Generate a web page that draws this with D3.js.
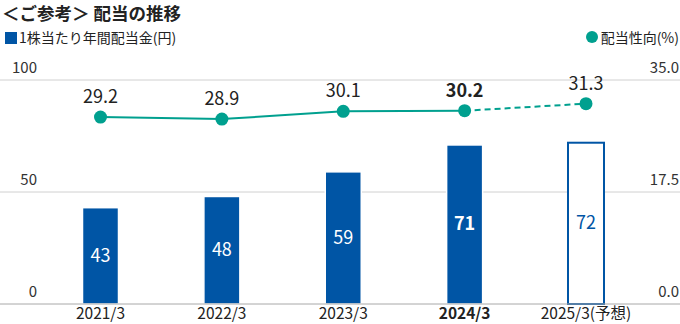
<html lang="ja">
<head>
<meta charset="UTF-8">
<title>配当の推移</title>
<script src="https://d3js.org/d3.v7.min.js"></script>
<style>
    body { margin: 0; background: #fff; overflow: hidden; }
    svg text { font-family: "Noto Sans CJK JP", "Noto Sans", sans-serif; fill: #222; }
</style>
</head>
<body>
<svg id="chart" width="680" height="324"></svg>
<script>
    // data
    const categories = ["2021/3", "2022/3", "2023/3", "2024/3", "2025/3(予想)"];
    const dividends = [43, 48, 59, 71, 72];
    const payoutRatio = [29.2, 28.9, 30.1, 30.2, 31.3];
    const isForecast = [false, false, false, false, true];
    const isCurrent = [false, false, false, true, false];
    const leftTicks = [0, 50, 100];
    const rightTicks = [0, 17.5, 35];

    const blue = "#0055a5";
    const teal = "#00a08f";

    const svg = d3.select("svg#chart");
    const width = +svg.attr("width");

    const x = d3.scalePoint().domain(categories).range([100.5, 586]);
    const yL = d3.scaleLinear().domain([0, 100]).range([304, 80]);
    const yR = d3.scaleLinear().domain([0, 35]).range([304, 80]);
    const barW = 36;

    // title + legends
    svg.append("text")
        .attr("x", 2).attr("y", 20)
        .style("font-size", "17.5px").style("font-weight", "bold")
        .text("＜ご参考＞ 配当の推移");

    svg.append("rect")
        .attr("x", 5).attr("y", 32).attr("width", 12).attr("height", 12)
        .style("fill", blue);
    svg.append("text")
        .attr("x", 19).attr("y", 43)
        .style("font-size", "14px")
        .text("1株当たり年間配当金(円)");

    svg.append("circle")
        .attr("cx", 592).attr("cy", 37).attr("r", 6)
        .style("fill", teal);
    svg.append("text")
        .attr("x", 679).attr("y", 43)
        .attr("text-anchor", "end")
        .style("font-size", "14px")
        .text("配当性向(%)");

    // gridlines
    svg.selectAll(".grid")
        .data(leftTicks.filter(d => d > 0))
        .join("line")
        .attr("class", "grid")
        .attr("x1", 0).attr("x2", width)
        .attr("y1", d => yL(d)).attr("y2", d => yL(d))
        .style("stroke", "#d0d0d0").style("stroke-width", 1);

    // tick labels
    svg.selectAll(".ltick")
        .data(leftTicks)
        .join("text")
        .attr("class", "ltick")
        .attr("x", 37).attr("y", d => yL(d) - 7)
        .attr("text-anchor", "end")
        .style("font-size", "15px").style("fill", "#333")
        .text(d => d);

    svg.selectAll(".rtick")
        .data(rightTicks)
        .join("text")
        .attr("class", "rtick")
        .attr("x", 679).attr("y", d => yR(d) - 7)
        .attr("text-anchor", "end")
        .style("font-size", "15px").style("fill", "#333")
        .text(d => d3.format(".1f")(d));

    // bars
    const bars = categories.map((c, i) => ({ cat: c, v: dividends[i], fc: isForecast[i], cur: isCurrent[i] }));

    svg.selectAll(".bar")
        .data(bars)
        .join("rect")
        .attr("class", "bar")
        .attr("x", d => x(d.cat) - barW / 2)
        .attr("y", d => yL(d.v))
        .attr("width", barW)
        .attr("height", d => yL(0) - yL(d.v))
        .style("fill", d => d.fc ? "#fff" : blue)
        .style("stroke", d => d.fc ? blue : "#fff")
        .style("stroke-width", d => d.fc ? 2 : 1.5);

    svg.selectAll(".bar-label")
        .data(bars)
        .join("text")
        .attr("class", "bar-label")
        .attr("x", d => x(d.cat))
        .attr("y", d => (yL(d.v) + yL(0)) / 2 + 6)
        .attr("text-anchor", "middle")
        .style("font-size", "18px")
        .style("font-weight", d => d.cur ? "bold" : "normal")
        .style("fill", d => d.fc ? blue : "#fff")
        .text(d => d.v);

    // baseline
    svg.append("line")
        .attr("x1", 0).attr("x2", width)
        .attr("y1", yL(0)).attr("y2", yL(0))
        .style("stroke", "#a8a8a8").style("stroke-width", 1);

    // x labels
    svg.selectAll(".xlabel")
        .data(bars)
        .join("text")
        .attr("class", "xlabel")
        .attr("x", d => x(d.cat))
        .attr("y", 319)
        .attr("text-anchor", "middle")
        .style("font-size", "15.5px")
        .style("font-weight", d => d.cur ? "bold" : "normal")
        .text(d => d.cat);

    // payout ratio line
    const pts = categories.map((c, i) => ({ cat: c, v: payoutRatio[i], fc: isForecast[i], cur: isCurrent[i] }));
    const line = d3.line().x(d => x(d.cat)).y(d => yR(d.v));

    const actual = pts.filter(d => !d.fc);
    const lastActual = actual[actual.length - 1];
    const projected = [lastActual].concat(pts.filter(d => d.fc));

    svg.append("path")
        .attr("d", line(actual))
        .style("fill", "none").style("stroke", teal).style("stroke-width", 2);
    svg.append("path")
        .attr("d", line(projected))
        .style("fill", "none").style("stroke", teal).style("stroke-width", 2)
        .style("stroke-dasharray", "6,4");

    svg.selectAll(".dot")
        .data(pts)
        .join("circle")
        .attr("class", "dot")
        .attr("cx", d => x(d.cat)).attr("cy", d => yR(d.v))
        .attr("r", 6.5)
        .style("fill", teal);

    svg.selectAll(".dot-label")
        .data(pts)
        .join("text")
        .attr("class", "dot-label")
        .attr("x", d => x(d.cat)).attr("y", d => yR(d.v) - 14)
        .attr("text-anchor", "middle")
        .style("font-size", "18px")
        .style("font-weight", d => d.cur ? "bold" : "normal")
        .text(d => d3.format(".1f")(d.v));
</script>
</body>
</html>
